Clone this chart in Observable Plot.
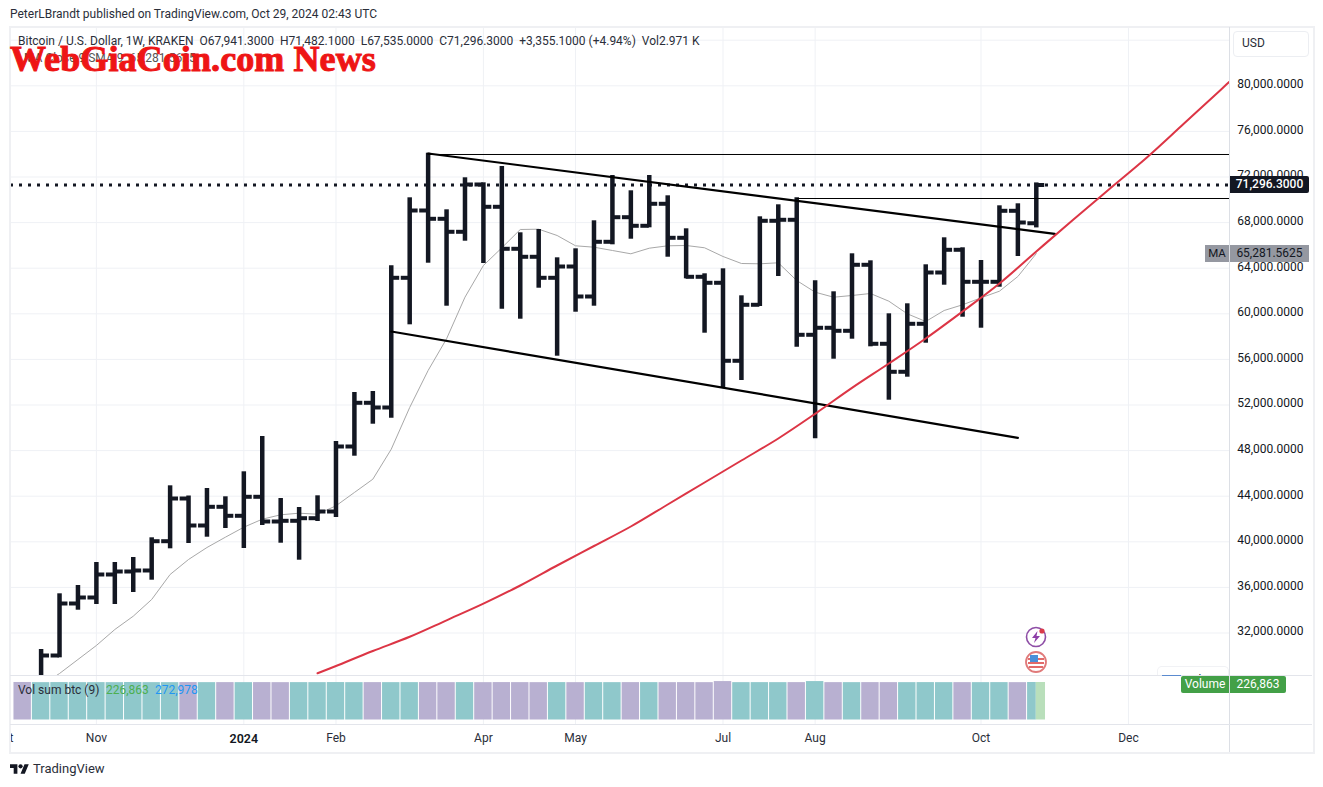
<!DOCTYPE html>
<html>
<head>
<meta charset="utf-8">
<script src="https://cdn.jsdelivr.net/npm/d3@7"></script>
<script src="https://cdn.jsdelivr.net/npm/@observablehq/plot@0.6"></script>
<style>
  html, body { margin: 0; padding: 0; background: #fff; overflow: hidden; }
  body { width: 1323px; height: 787px; position: relative; font-family: Roboto, sans-serif; color: #131722; }
  .abs { position: absolute; white-space: pre; }
  #panes svg { position: absolute; left: 0; }
</style>
</head>
<body>
<div id="panes"></div>
<script>
const weeks = ["2023-10-16","2023-10-23","2023-10-30","2023-11-06","2023-11-13","2023-11-20","2023-11-27","2023-12-04","2023-12-11","2023-12-18","2023-12-25",
  "2024-01-01","2024-01-08","2024-01-15","2024-01-22","2024-01-29","2024-02-05","2024-02-12","2024-02-19","2024-02-26","2024-03-04","2024-03-11","2024-03-18","2024-03-25",
  "2024-04-01","2024-04-08","2024-04-15","2024-04-22","2024-04-29","2024-05-06","2024-05-13","2024-05-20","2024-05-27","2024-06-03","2024-06-10","2024-06-17","2024-06-24",
  "2024-07-01","2024-07-08","2024-07-15","2024-07-22","2024-07-29","2024-08-05","2024-08-12","2024-08-19","2024-08-26","2024-09-02","2024-09-09","2024-09-16","2024-09-23","2024-09-30",
  "2024-10-07","2024-10-14","2024-10-21","2024-10-28"];
const opens = [27833,30026,34588,35114,37132,37395,37483,40052,43798,41430,43070,42281,43948,41781,41842,42070,42658,48360,52193,51781,63158,69062,68333,67193,71343,69386,65702,65001,63158,64149,61518,66316,68474,67720,69650,66667,63246,62720,55878,60790,68158,68246,58158,58773,58509,64299,57369,54913,59123,63623,65615,62807,62807,69035,67941.3];
const highs = [30553,35438,36166,38183,38183,38622,40350,44911,44017,44675,43947,46140,49236,43797,43008,44034,48797,53096,53183,64210,70175,74087,69122,71930,71491,72920,67105,67394,64911,65701,68157,72131,70789,72131,70350,67456,63508,63947,61578,68508,69561,70175,62894,61929,65263,64648,59999,60877,64298,66666,65789,64675,69473,69649,71482.1];
const lows = [26955,29823,33999,34499,34499,35552,36631,39385,39850,40403,41166,39411,41429,39876,38385,41780,42131,47508,50315,50841,59034,64438,60666,66368,64412,60403,59526,62245,56280,60139,60666,66052,66543,67543,64964,63069,58298,53508,54148,60640,63271,57070,49034,56017,57772,57104,52420,54438,57420,62508,59701,58736,62332,65026,67535];
const closes = [30026,34588,35114,37132,37395,37483,40052,43798,41430,43070,42281,43948,41781,41842,42070,42658,48360,52193,51781,63158,69062,68333,67193,71343,69386,65702,65001,63158,64149,61518,66316,68474,67720,69650,66667,63246,62720,55878,60790,68158,68246,58158,58773,58509,64299,57369,54913,59123,63623,65615,62807,62807,69035,68009,71296.3];
const maValues = [27395,28447,29676,30904,32307,33474,34939,37132,38448,39500,40404,41281,41983,42369,42509,42421,43158,44325,45491,48123,51781,55027,57807,61457,64237,65790,67395,67421,66869,65965,65842,65553,65264,65755,65965,65992,65790,65027,64413,64386,64474,62921,61895,61457,61606,61781,61106,60000,59325,60290,60790,61404,61983,63272,65281.5625];

const curveDates = ["2024-01-29","2024-02-05","2024-02-19","2024-03-04","2024-03-18","2024-04-01","2024-04-15","2024-04-29","2024-05-13","2024-05-27","2024-06-10","2024-06-24","2024-07-08","2024-07-22","2024-08-05","2024-08-19","2024-09-02","2024-09-16","2024-09-30","2024-10-14","2024-10-28","2024-11-11","2024-11-25","2024-12-09","2024-12-23","2025-01-06","2025-01-13"];
const curveValues = [28465,29105,30421,31667,33114,34570,36167,37921,39632,41342,43272,45202,47132,49062,51228,53500,55641,57834,60202,62658,65465,68255,70992,73711,76667,79641,81132];

const upperDates = ["2024-03-11","2024-11-04"], upperValues = [74061,67017];
const lowerDates = ["2024-02-26","2024-10-21"], lowerValues = [58447,49122];
const rayHighDates = ["2024-03-11","2025-01-13"], rayHighValues = [73974,73974];
const rayLowDates = ["2024-07-29","2025-01-13"], rayLowValues = [70114,70114];
const lastPrice = 71296.3;

const volumeWeeks = ["2023-10-09", ...weeks.slice(0, -1)];
const volumes = [227000,226000,226500,226000,226200,226000,226800,226100,226000,226400,226000,226200,226000,226300,226000,226100,226000,226500,226000,226200,226000,226100,226300,226000,226200,226000,226400,226100,226000,226300,226000,226100,226000,226200,226100,226000,226300,226000,232500,226000,226100,226000,226200,232500,226100,226000,226200,226100,226000,226300,226000,226100,226000,226200,226000];
const volumeSides = ["down","up","up","up","up","up","up","up","up","down","up","down","up","down","down","up","up","up","up","down","up","up","down","down","up","down","down","down","down","up","down","up","up","down","up","down","down","down","down","up","up","up","down","up","down","up","down","down","up","up","up","down","up","up","down"];
const lastVolume = 226863;

const priceTicks = [80000,76000,72000,68000,64000,60000,56000,52000,48000,44000,40000,36000,32000];
const gridPrices = [84000,80000,76000,72000,68000,64000,60000,56000,52000,48000,44000,40000,36000,32000,28000];
const monthDates = ["2023-10-02","2023-11-06","2024-01-01","2024-02-05","2024-04-01","2024-05-06","2024-07-01","2024-08-05","2024-10-07","2024-12-02"];
const monthLabels = ["Oct","Nov","2024","Feb","Apr","May","Jul","Aug","Oct","Dec"];

const parse = s => new Date(s + "T00:00:00Z");
const shift = (date, days) => new Date(+date + days * 864e5);
const bars = weeks.map((w, i) => ({date: parse(w), open: opens[i], high: highs[i], low: lows[i], close: closes[i], ma: maValues[i]}));
const vols = volumeWeeks.map((w, i) => ({date: parse(w), value: volumes[i], side: volumeSides[i]}));
const line = (ds, vs) => ds.map((d, i) => ({date: parse(d), value: vs[i]}));
const months = monthDates.map((d, i) => ({date: parse(d), label: monthLabels[i]}));
const lastWeek = parse(weeks[weeks.length - 1]);

const xScale = {type: "utc", domain: [parse(weeks[0]), lastWeek], range: [40.6, 1035.8]};
const font = {background: "transparent", fontFamily: "Roboto, sans-serif"};
const INK = "#131722", GRID = "#eff1f5";
const fmt = d => d3.format(",.4f")(d);
const gridDates = months.slice(1).map(m => m.date);

const price = Plot.plot({
  width: 1323, height: 676, marginTop: 27, marginRight: 94, marginBottom: 1, marginLeft: 10,
  x: {...xScale, axis: null},
  y: {domain: [32000, 80000], range: [632.5, 85.3], axis: null},
  style: font,
  marks: [
    Plot.ruleY(gridPrices, {y: d => d, stroke: GRID, strokeWidth: 1, clip: "frame"}),
    Plot.ruleX(gridDates, {x: d => d, stroke: GRID, strokeWidth: 1, clip: "frame"}),
    Plot.line(bars, {x: "date", y: "ma", stroke: "#a8a8a8", strokeWidth: 1, clip: "frame"}),
    Plot.ruleY([lastPrice], {y: d => d, stroke: INK, strokeWidth: 3, strokeDasharray: "3 6", clip: "frame"}),
    Plot.ruleX(bars, {x: "date", y1: "low", y2: "high", stroke: INK, strokeWidth: 4.5, clip: "frame"}),
    Plot.ruleY(bars, {y: "open", x1: d => shift(d.date, -3.2), x2: "date", stroke: INK, strokeWidth: 4, clip: "frame"}),
    Plot.ruleY(bars, {y: "close", x1: "date", x2: d => shift(d.date, 3.2), stroke: INK, strokeWidth: 4, clip: "frame"}),
    Plot.line(line(rayHighDates, rayHighValues), {x: "date", y: "value", stroke: "#000", strokeWidth: 1, clip: "frame"}),
    Plot.line(line(rayLowDates, rayLowValues), {x: "date", y: "value", stroke: "#000", strokeWidth: 1, clip: "frame"}),
    Plot.line(line(upperDates, upperValues), {x: "date", y: "value", stroke: "#000", strokeWidth: 2.2, clip: "frame"}),
    Plot.line(line(lowerDates, lowerValues), {x: "date", y: "value", stroke: "#000", strokeWidth: 2.2, clip: "frame"}),
    Plot.line(line(curveDates, curveValues), {x: "date", y: "value", stroke: "#dc3545", strokeWidth: 2, curve: "catmull-rom", clip: "frame"}),
    Plot.text(priceTicks, {y: d => d, text: fmt, frameAnchor: "right", dx: 74, dy: -1.5, textAnchor: "end", fontSize: 12, fill: INK})
  ]
});
price.style.top = "0px";

const volume = Plot.plot({
  width: 1323, height: 48, marginTop: 0, marginRight: 94, marginBottom: 0, marginLeft: 10,
  x: {...xScale, axis: null},
  y: {domain: [0, 226863], range: [43.5, 6], axis: null},
  color: {domain: ["up", "down", "now"], range: ["#8fc8cb", "#b8b0d1", "#b9dfbb"]},
  style: font,
  marks: [
    Plot.ruleX(gridDates, {x: d => d, stroke: GRID, strokeWidth: 1}),
    Plot.rectY(vols, {x1: d => shift(d.date, -3.5), x2: d => shift(d.date, 3.5), y1: 0, y2: "value", fill: "side", insetLeft: 0.5, insetRight: 0.5, clip: "frame"}),
    Plot.rectY([{date: lastWeek, value: lastVolume, side: "up"}], {x1: d => shift(d.date, -3.5), x2: "date", y1: 0, y2: "value", fill: "side", insetLeft: 0.5, clip: "frame"}),
    Plot.rectY([{date: lastWeek, value: lastVolume, side: "now"}], {x1: "date", x2: d => shift(d.date, 3.5), y1: 0, y2: "value", fill: "side", clip: "frame"})
  ]
});
volume.style.top = "676px";

const timeAxis = Plot.plot({
  width: 1323, height: 28, marginTop: 0, marginRight: 94, marginBottom: 0, marginLeft: 10,
  x: {...xScale, axis: null},
  y: {axis: null},
  style: font,
  marks: [
    Plot.text(months.filter(m => m.label !== "2024"), {x: "date", text: "label", frameAnchor: "middle", dy: 0, fontSize: 12, fill: "#2a2e39", clip: "frame"}),
    Plot.text(months.filter(m => m.label === "2024"), {x: "date", text: "label", frameAnchor: "middle", dy: 0, fontSize: 12.5, fontWeight: 600, fill: INK, clip: "frame"})
  ]
});
timeAxis.style.top = "724px";

document.getElementById("panes").append(price, volume, timeAxis);

function box(css, text, html) {
  const d = document.createElement("div");
  d.className = "abs";
  d.style.cssText = css;
  if (text != null) d.textContent = text;
  if (html != null) d.innerHTML = html;
  document.body.append(d);
  return d;
}
const LINE = "#e3e5eb";
box(`left:9px;top:26px;width:1302px;height:724px;border:2px solid #eff0f3;`);
box(`left:1229px;top:27px;width:1px;height:725px;background:#dcdfe5;`);
box(`left:10px;top:675px;width:1302px;height:1px;background:${LINE};`);
box(`left:10px;top:724px;width:1302px;height:1px;background:${LINE};`);

box(`left:10px;top:7px;font-size:12px;line-height:15px;color:#2a2e39;`, "PeterLBrandt published on TradingView.com, Oct 29, 2024 02:43 UTC");
box(`left:18px;top:34px;font-size:12px;line-height:15px;color:#2a2e39;`, "Bitcoin / U.S. Dollar, 1W, KRAKEN  O67,941.3000  H71,482.1000  L67,535.0000  C71,296.3000  +3,355.1000 (+4.94%)  Vol2.971 K");
box(`left:24px;top:51px;font-size:12px;line-height:15px;color:#555;`, "MA Close 9 SMA 9  65,281.5625");
box(`left:10px;top:40px;font-family:'Liberation Serif',serif;font-weight:700;font-size:36px;line-height:38px;color:#ee1515;-webkit-text-stroke:1px #ee1515;letter-spacing:0.1px;`, "WebGiaCoin.com News");

box(`left:18px;top:683px;font-size:12px;line-height:15px;color:#2a2e39;`, "Vol sum btc (9)");
box(`left:106px;top:683px;font-size:12px;line-height:15px;color:#4caf50;`, "226,863");
box(`left:155px;top:683px;font-size:12px;line-height:15px;color:#2196f3;`, "272,978");

box(`left:1233px;top:31px;width:74px;height:24px;border:1px solid #eceef2;border-radius:4px;background:#fff;`);
box(`left:1242px;top:36px;font-size:12px;line-height:15px;color:#2a2e39;`, "USD");

box(`left:1230px;top:176px;width:79px;height:17px;background:${INK};border-radius:0 2px 2px 0;color:#fff;font-size:12px;line-height:16px;text-align:center;font-weight:500;`, "71,296.3000");
box(`left:1205px;top:245px;width:24px;height:17px;background:#9598a1;color:#131722;font-size:11.5px;line-height:17px;text-align:center;`, "MA");
box(`left:1230px;top:245px;width:79px;height:17px;background:#9598a1;color:#131722;font-size:12px;line-height:16px;text-align:center;`, fmt(maValues[maValues.length - 1]));

box(`left:1157px;top:666px;width:72px;height:9px;border:1px solid #f1f2f5;border-bottom:0;border-radius:5px 5px 0 0;background:#fff;overflow:hidden;font-size:12px;line-height:15px;text-align:center;color:#2a2e39;padding-top:6px;box-sizing:border-box;`, "7 d");
box(`left:1162px;top:675px;width:19px;height:1px;background:#5b8bd0;`);

box(`left:1181px;top:676px;width:48px;height:17px;background:#43a047;border-radius:2px 0 0 2px;color:#fff;font-size:12px;line-height:17px;text-align:center;`, "Volume");
box(`left:1230px;top:676px;width:56px;height:17px;background:#43a047;border-radius:0 2px 2px 0;color:#fff;font-size:12px;line-height:16px;text-align:center;`, "226,863");

box(`left:1024px;top:626px;width:24px;height:48px;`, null,
  `<svg width="24" height="48" viewBox="0 0 24 48">
    <circle cx="12" cy="11" r="9.5" fill="#fff" stroke="#8e4ea6" stroke-width="1.6"/>
    <path d="M13.5 5 L8 12 H11.5 L10 17 L16 10 H12.5 Z" fill="#8e3fa8"/>
    <circle cx="18" cy="5" r="2.6" fill="#d93a4a"/>
    <circle cx="12" cy="36" r="10" fill="#fff" stroke="#e07a7a" stroke-width="1.8"/>
    <path d="M4 32 h16 v2 H4z M4 36 h16 v2 H4z M5 40 h14 v2 H5z" fill="#e26a6a"/>
    <rect x="6" y="29" width="8" height="7" fill="#4a90d9"/>
  </svg>`);

box(`left:10px;top:762px;width:19px;height:15px;`, null,
  `<svg width="19" height="15" viewBox="0 0 36 28"><path d="M14 22H7V11H0V4h14v18zM28 22h-8l7.5-18h8L28 22z" fill="#131722"/><circle cx="20" cy="8" r="4" fill="#131722"/></svg>`);
box(`left:33px;top:761px;font-size:13px;line-height:16px;color:#2a2e39;`, "TradingView");
</script>
</body>
</html>
